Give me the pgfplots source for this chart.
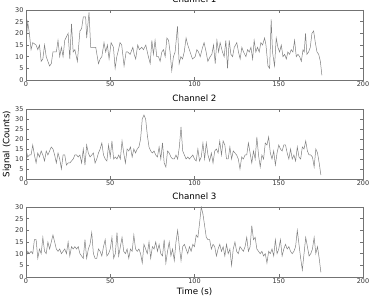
\documentclass[border=0pt]{standalone}
\usepackage{fontspec}
\setmainfont{DejaVu Sans}
\usepackage{pgfplots}
\pgfplotsset{compat=1.18}
\tikzset{sig/.style={black!50, line width=0.5pt, mark=none}}
\pgfplotsset{
 chan/.style={
   at={(26pt,#1)}, anchor=south west, scale only axis, width=337pt, height=70pt,
   xmin=0, xmax=200, ymin=0, xtick={0,50,100,150,200},
   tick align=inside, major tick length=3pt,
   axis line style={black!55, line width=0.5pt},
   tick style={black!55, line width=0.5pt},
   ticklabel style={font=\fontsize{6.5}{7}\selectfont, text=black!80},
   /pgf/number format/assume math mode=true,
   xticklabel style={yshift=1.5pt},
   yticklabel style={xshift=1pt},
   title style={font=\fontsize{8.7}{10}\selectfont, at={(0.5,1)}, anchor=base, yshift=1pt},
 }
}
\begin{document}
\begin{tikzpicture}
\useasboundingbox (0,0) rectangle (372pt,299pt);
\begin{axis}[chan=219pt, ymax=30, ytick={0,5,...,30}, title={Channel 1}]
\addplot[sig] coordinates {(0,15)(1,25)(2,20)(3,13)(4,16)(6,15)(7,13)(8,15)(9,8)(10,9)(11,15)(12,10)(14,6)(15,7)(16,12)(18,12)(19,17)(20,10)(21,14)(22,10)(23,17)(25,20)(26,9)(27,24)(28,12)(29,13)(30.5,8)(32,21)(33,22)(34,27)(35.4,27)(36,18)(37.4,29)(38.4,14)(40,14)(41.4,14)(43,7)(44,9)(45,10)(46.3,16)(47.3,12)(48.3,15)(49.3,9)(50.5,16)(51.9,14)(52.9,5)(53.9,10)(54.9,13)(55.8,16)(56.8,15)(58.2,6)(59.4,12)(60.4,12)(61.8,11)(63.4,14)(64.2,11)(65.1,9)(66.3,15)(67.3,13)(68.7,14)(69.7,13)(71.1,15)(72.3,11)(73.7,7)(74.7,17)(75.6,11)(76.6,17)(77.6,10)(78.6,10)(79.6,8)(80.6,12)(81.6,13)(82.6,10)(83.6,18)(84.6,17)(85.5,12)(86.5,4)(87.5,10)(88.5,12)(89.9,23)(90.9,7)(91.9,10)(92.9,9)(93.9,12)(95,18)(96,15)(97.4,12)(98.8,9)(100.4,10)(101.4,13)(102.4,12)(103.4,10)(104.8,14)(105.7,16)(106.9,12)(107.9,8)(109.3,10)(110.3,11)(111.3,15)(112.3,7)(113.3,17)(114.3,12)(115.2,16)(116.6,12)(117.6,10)(118.6,17)(119.6,5)(120.6,17)(121.6,11)(122.6,10)(123.6,14)(125.1,16)(126.1,12)(127.1,9)(128.1,14)(129.1,12)(130.5,10)(131.5,13)(132.5,12)(133.5,14)(134.5,9)(135.4,17)(136.4,12)(137.4,14)(138.4,12)(139.4,16)(140.4,15)(141.6,18)(142.4,15)(143.6,6)(144.6,5)(145.5,26)(146.3,12)(147.5,6)(148.5,18)(149.5,14)(150.5,12)(151.5,15)(152.5,10)(153.5,11)(154.5,9)(155.4,12)(156.4,11)(157.4,13)(158.4,12)(159.4,17)(160.4,10)(161.4,11)(162.4,10)(163.4,8)(164.4,13)(165.1,12)(165.9,20)(166.7,11)(167.7,12)(168.7,14)(169.7,20)(170.7,21)(171.7,16)(172.7,12)(173.7,11)(174.7,8)(175.6,2)};
\end{axis}
\begin{axis}[chan=120pt, ymax=35, ytick={0,5,...,35}, title={Channel 2},
  ylabel={Signal (Counts)},
  ylabel style={font=\fontsize{8.7}{10}\selectfont, at={(axis description cs:-0.0564,0.5)}, anchor=center}]
\addplot[sig] table[x expr=\coordindex, y index=0] {
15
11
12
12
17
12
8
13
11
14
12
9
14
12
14
16
15
12
8
13
10
5
12
12
7
8
8
9
10
12
12
11
12
8
15
7
17
13
11
12
13
8
10
13
15
18
12
10
9
17
11
19
10
11
10
12
10
19
13
8
15
14
16
11
15
13
15
16
20
30
32
30
22
16
14
13
14
12
11
16
10
18
8
6
14
13
11
10
10
12
10
16
26
14
12
10
11
10
11
12
10
9
15
9
11
18
10
18
12
9
13
8
14
15
13
19
12
19
17
10
10
16
10
14
13
12
10
5
11
10
12
12
18
13
8
14
10
21
12
6
12
10
18
17
21
13
10
14
7
13
17
15
14
17
17
13
10
15
10
12
9
16
11
10
16
15
19
14
12
12
11
6
15
13
8
2
};
\end{axis}
\begin{axis}[chan=22pt, ymax=30, ytick={0,5,...,30}, title={Channel 3},
  xlabel={Time (s)},
  xlabel style={font=\fontsize{8.7}{10}\selectfont, at={(axis description cs:0.5,0)}, anchor=north, yshift=-7pt}]
\addplot[sig] table[x expr=\coordindex, y index=0] {
8
11
10
11
10
16
16
8
12
10
17
11
10
15
12
15
18
15
12
11
12
10
11
12
10
15
9
13
12
13
12
13
10
9
8
16
8
12
14
19
10
8
8
12
11
9
13
16
9
10
12
17
8
10
19
9
13
17
11
10
12
8
12
11
18
12
11
12
10
6
14
12
10
15
8
13
12
15
11
14
10
9
16
6
11
15
9
12
7
15
20
13
7
13
14
12
10
13
11
14
13
18
17
23
30
27
22
17
16
16
12
14
13
9
12
14
11
13
9
14
10
12
5
12
15
11
10
13
12
11
13
17
11
13
22
16
17
12
11
10
11
9
10
6
11
10
12
9
16
10
12
16
9
12
14
12
13
11
10
11
13
20
14
8
3
10
17
13
9
10
12
17
10
13
8
2
};
\end{axis}
\end{tikzpicture}
\end{document}
